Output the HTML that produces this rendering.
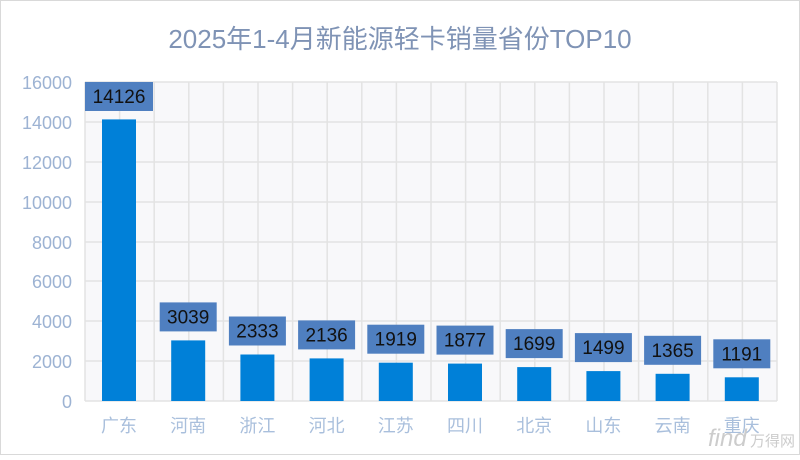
<!DOCTYPE html><html><head><meta charset="utf-8"><style>body{margin:0;width:800px;height:455px;overflow:hidden;background:#fff}</style></head><body>
<svg width="800" height="455" xmlns="http://www.w3.org/2000/svg" font-family="Liberation Sans, Noto Sans CJK SC, sans-serif">
<rect x="0.5" y="0.5" width="799" height="454" fill="#fff" stroke="#d9d9d9"/>
<text x="400" y="48" text-anchor="middle" font-size="26" fill="#7f93b5">2025年1-4月新能源轻卡销量省份TOP10</text>
<rect x="85" y="82" width="692" height="319" fill="#f8f8fa"/>
<g stroke="#e3e3e3" stroke-width="1.5">
<line x1="85" x2="777" y1="82" y2="82"/><line x1="85" x2="777" y1="122" y2="122"/><line x1="85" x2="777" y1="162" y2="162"/><line x1="85" x2="777" y1="202" y2="202"/><line x1="85" x2="777" y1="242" y2="242"/><line x1="85" x2="777" y1="281" y2="281"/><line x1="85" x2="777" y1="321" y2="321"/><line x1="85" x2="777" y1="361" y2="361"/><line x1="85" x2="777" y1="401" y2="401"/>
<line x1="85" x2="85" y1="82" y2="401"/><line x1="119.6" x2="119.6" y1="82" y2="401"/><line x1="154.2" x2="154.2" y1="82" y2="401"/><line x1="188.8" x2="188.8" y1="82" y2="401"/><line x1="223.4" x2="223.4" y1="82" y2="401"/><line x1="258" x2="258" y1="82" y2="401"/><line x1="292.6" x2="292.6" y1="82" y2="401"/><line x1="327.2" x2="327.2" y1="82" y2="401"/><line x1="361.8" x2="361.8" y1="82" y2="401"/><line x1="396.4" x2="396.4" y1="82" y2="401"/><line x1="431" x2="431" y1="82" y2="401"/><line x1="465.6" x2="465.6" y1="82" y2="401"/><line x1="500.2" x2="500.2" y1="82" y2="401"/><line x1="534.8" x2="534.8" y1="82" y2="401"/><line x1="569.4" x2="569.4" y1="82" y2="401"/><line x1="604" x2="604" y1="82" y2="401"/><line x1="638.6" x2="638.6" y1="82" y2="401"/><line x1="673.2" x2="673.2" y1="82" y2="401"/><line x1="707.8" x2="707.8" y1="82" y2="401"/><line x1="742.4" x2="742.4" y1="82" y2="401"/><line x1="777" x2="777" y1="82" y2="401"/>
</g>
<g font-size="18" fill="#9db3d3" text-anchor="end">
<text x="72" y="89">16000</text><text x="72" y="129">14000</text><text x="72" y="169">12000</text><text x="72" y="209">10000</text><text x="72" y="249">8000</text><text x="72" y="288">6000</text><text x="72" y="328">4000</text><text x="72" y="368">2000</text><text x="72" y="408">0</text>
</g>
<g fill="#0080d8">
<rect x="102" y="119.4" width="34" height="281.6"/>
<rect x="171.2" y="340.4" width="34" height="60.6"/>
<rect x="240.4" y="354.5" width="34" height="46.5"/>
<rect x="309.6" y="358.4" width="34" height="42.6"/>
<rect x="378.8" y="362.7" width="34" height="38.3"/>
<rect x="448" y="363.6" width="34" height="37.4"/>
<rect x="517.2" y="367.1" width="34" height="33.9"/>
<rect x="586.4" y="371.1" width="34" height="29.9"/>
<rect x="655.6" y="373.8" width="34" height="27.2"/>
<rect x="724.8" y="377.3" width="34" height="23.7"/>
</g>
<g fill="#4f7fc0">
<rect x="85" y="82" width="68" height="29"/>
<rect x="159.7" y="302.4" width="57" height="29"/>
<rect x="228.9" y="316.5" width="57" height="29"/>
<rect x="298.1" y="320.4" width="57" height="29"/>
<rect x="367.3" y="324.7" width="57" height="29"/>
<rect x="436.5" y="325.6" width="57" height="29"/>
<rect x="505.7" y="329.1" width="57" height="29"/>
<rect x="574.9" y="333.1" width="57" height="29"/>
<rect x="644.1" y="335.8" width="57" height="29"/>
<rect x="713.3" y="339.3" width="57" height="29"/>
</g>
<g font-size="19" fill="#111" text-anchor="middle">
<text x="119" y="103">14126</text>
<text x="188.2" y="323.4">3039</text>
<text x="257.4" y="337.5">2333</text>
<text x="326.6" y="341.4">2136</text>
<text x="395.8" y="345.7">1919</text>
<text x="465" y="346.6">1877</text>
<text x="534.2" y="350.1">1699</text>
<text x="603.4" y="354.1">1499</text>
<text x="672.6" y="356.8">1365</text>
<text x="741.8" y="360.3">1191</text>
</g>
<g font-size="18" fill="#a9bfdc" text-anchor="middle">
<text x="119" y="432">广东</text><text x="188.2" y="432">河南</text><text x="257.4" y="432">浙江</text><text x="326.6" y="432">河北</text><text x="395.8" y="432">江苏</text><text x="465" y="432">四川</text><text x="534.2" y="432">北京</text><text x="603.4" y="432">山东</text><text x="672.6" y="432">云南</text><text x="741.8" y="432">重庆</text>
</g>
<text x="708" y="446" font-size="24" fill="#ccc" font-style="italic">find</text><text x="750" y="446" font-size="15" fill="#ccc">万得网</text>
</svg></body></html>
